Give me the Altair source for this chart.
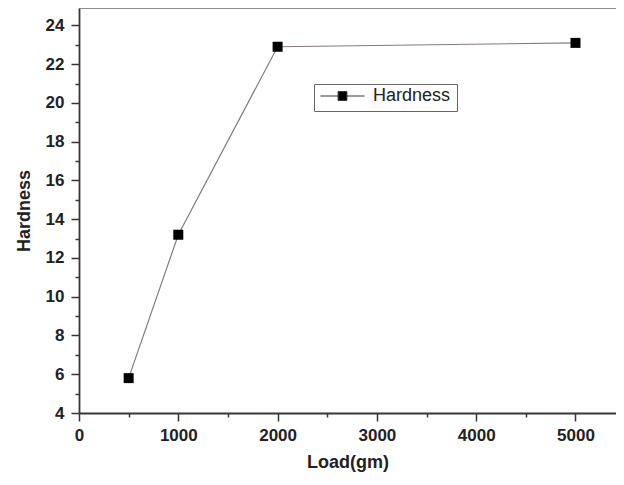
import altair as alt
import pandas as pd

loads = [500, 1000, 2000, 5000]
hardness = [5.8, 13.2, 22.9, 23.1]
series = ["Hardness", "Hardness", "Hardness", "Hardness"]
x_ticks = [0, 500, 1000, 1500, 2000, 2500, 3000, 3500, 4000, 4500, 5000]
y_ticks = [4, 5, 6, 7, 8, 9, 10, 11, 12, 13, 14, 15, 16, 17, 18, 19, 20, 21, 22, 23, 24]

df = pd.DataFrame({"load": loads, "hardness": hardness, "series": series})

W, H = 537, 405
FONT = "Liberation Sans"
AX = "#3b3434"

x_enc = alt.X(
    "load:Q",
    scale=alt.Scale(domain=[0, 5408], nice=False, zero=False),
    axis=alt.Axis(
        title="Load(gm)",
        values=x_ticks,
        format="d",
        labelFlush=False,
        labelExpr="datum.value % 1000 === 0 ? datum.label : ''",
        tickSize={"condition": {"test": "datum.value % 1000 === 0", "value": 8}, "value": 4},
        labelPadding=6,
        titlePadding=10,
    ),
)
y_enc = alt.Y(
    "hardness:Q",
    scale=alt.Scale(domain=[4, 24.9], nice=False, zero=False),
    axis=alt.Axis(
        title="Hardness",
        values=y_ticks,
        format="d",
        labelFlush=False,
        labelExpr="datum.value % 2 === 0 ? datum.label : ''",
        tickSize={"condition": {"test": "datum.value % 2 === 0", "value": 8}, "value": 4},
        labelPadding=7,
        titlePadding=12,
    ),
)

base = alt.Chart(df)

line = base.mark_line(color="#857b7b", strokeWidth=1.2).encode(x=x_enc, y=y_enc)

pts = base.mark_point(shape="square", filled=True, size=100, opacity=1).encode(
    x=x_enc,
    y=y_enc,
    color=alt.Color(
        "series:N",
        scale=alt.Scale(range=["#000000"]),
        legend=alt.Legend(
            title=None,
            orient="none",
            legendX=235,
            legendY=76,
            symbolType="M-1,0H-0.2M0.2,0H1M-0.2,-0.2H0.2V0.2H-0.2Z",
            symbolSize=1936,
            clipHeight=12,
            strokeColor="#666666",
            padding=6,
            labelFont=FONT,
            labelFontSize=18,
            labelColor="#222222",
            labelOffset=8,
            symbolFillColor="#000000",
            symbolStrokeColor="#333333",
            symbolStrokeWidth=1,
        ),
    ),
)

top = alt.Chart(pd.DataFrame({"k": [0]})).mark_rule(color="#6e6666", strokeWidth=1.5).encode(
    x=alt.value(0), x2=alt.value(W), y=alt.value(0)
)

chart = (
    alt.layer(line, pts, top)
    .properties(
        width=W,
        height=H,
        padding={"left": 71, "top": 0, "right": 0, "bottom": 60},
        autosize=alt.AutoSizeParams(type="none"),
        background="white",
    )
    .configure_view(stroke=None)
    .configure_axis(
        grid=False,
        domainColor=AX,
        domainWidth=1.8,
        tickColor=AX,
        tickWidth=1.5,
        labelFont=FONT,
        labelFontSize=17,
        labelFontWeight="bold",
        labelColor="#222222",
        titleFont=FONT,
        titleFontSize=18,
        titleFontWeight="bold",
        titleColor="#222222",
    )
)

chart.save("out.html", embed_options={"renderer": "svg", "actions": False})
